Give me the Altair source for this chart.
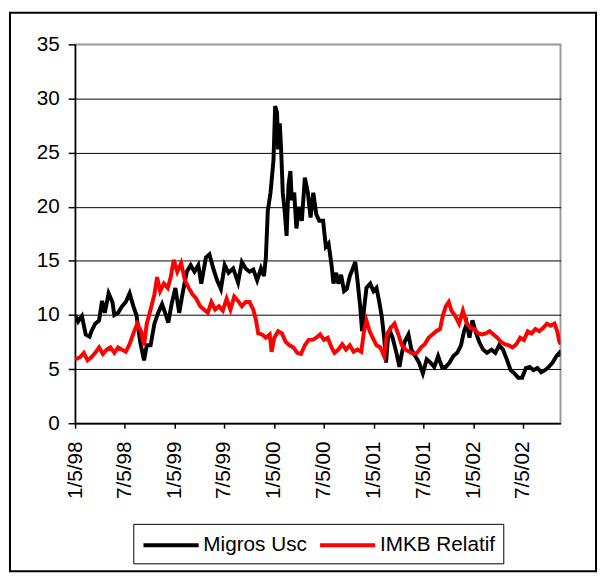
import altair as alt
import pandas as pd

START = "1998-01-05"

# Migros Usc (days since 1/5/98, value)
black_days = [0, 11, 25, 39, 53, 60, 74, 88, 99, 109, 123, 137, 144, 158, 172, 186, 200, 214, 225, 239,
              253, 263, 277, 291, 305, 319, 333, 342, 354, 368, 382, 396, 410, 424, 438, 452, 463, 480, 493, 507,
              521, 535, 549, 563, 580, 598, 612, 626, 640, 654, 668, 682, 693, 700, 707, 717, 728, 734, 741, 745,
              751, 756, 762, 770, 776, 783, 790, 795, 804, 812, 822, 832, 843, 854, 864, 874, 885, 896, 910, 920,
              930, 941, 948, 958, 966, 976, 987, 997, 1008, 1019, 1028, 1036, 1046, 1053, 1060, 1069, 1083, 1095, 1106, 1116,
              1125, 1134, 1141, 1148, 1155, 1165, 1179, 1190, 1199, 1209, 1223, 1234, 1248, 1262, 1276, 1290, 1304, 1318, 1332, 1346,
              1360, 1374, 1388, 1402, 1416, 1427, 1437, 1447, 1458, 1469, 1483, 1497, 1511, 1528, 1542, 1556, 1570, 1584, 1598, 1612,
              1626, 1640, 1654, 1668, 1682, 1696, 1710, 1724, 1738, 1752, 1766, 1777, 1782]
black_vals = [10.0, 9.4, 9.9, 8.2, 8.0, 8.5, 9.2, 9.5, 11.3, 10.2, 12.0, 11.2, 10.0, 10.2, 10.8, 11.2, 12.0, 10.8, 10.0, 7.5,
              5.8, 7.2, 7.2, 9.2, 10.2, 11.0, 10.0, 9.3, 11.0, 12.5, 10.2, 12.2, 14.0, 14.6, 14.0, 14.6, 12.9, 15.3, 15.6, 14.3,
              13.2, 12.4, 14.6, 13.9, 14.3, 13.0, 14.9, 14.3, 14.0, 14.2, 13.2, 14.3, 13.6, 15.3, 19.6, 21.3, 24.3, 29.3, 28.7, 25.3,
              27.7, 25.3, 21.3, 19.3, 17.3, 22.0, 23.3, 20.6, 21.3, 18.0, 20.0, 18.7, 22.7, 21.3, 19.0, 21.3, 19.3, 18.7, 18.7, 16.3,
              16.6, 14.6, 12.9, 13.9, 12.9, 13.7, 12.2, 12.4, 13.6, 14.3, 14.9, 13.2, 10.8, 8.5, 10.5, 12.5, 12.9, 12.2, 12.5, 11.2,
              9.9, 7.9, 5.6, 7.9, 8.5, 7.9, 6.5, 5.2, 6.5, 7.5, 8.2, 6.8, 6.2, 5.6, 4.6, 5.9, 5.6, 5.2, 6.2, 5.2,
              5.2, 5.6, 6.2, 6.5, 7.2, 8.5, 9.2, 7.9, 9.5, 8.5, 7.5, 6.8, 6.5, 6.8, 6.5, 7.2, 6.8, 5.9, 4.9, 4.6,
              4.2, 4.2, 5.1, 5.2, 4.9, 5.1, 4.7, 4.9, 5.2, 5.6, 6.2, 6.5, 6.2]

# IMKB Relatif (days since 1/5/98, value)
red_days = [0, 18, 32, 46, 60, 74, 88, 102, 116, 130, 144, 158, 172, 186, 200, 214, 228, 242, 253, 263,
            277, 291, 301, 312, 326, 340, 351, 362, 375, 389, 403, 417, 431, 445, 459, 473, 487, 500, 514, 528,
            542, 556, 570, 584, 598, 612, 626, 640, 654, 664, 672, 686, 700, 714, 721, 731, 745, 759, 773, 787,
            801, 815, 829, 843, 857, 871, 885, 899, 913, 927, 941, 952, 966, 980, 994, 1008, 1022, 1036, 1050, 1060,
            1069, 1081, 1092, 1106, 1120, 1134, 1144, 1158, 1172, 1186, 1199, 1213, 1227, 1241, 1255, 1269, 1283, 1297, 1311, 1325,
            1339, 1349, 1360, 1371, 1381, 1395, 1409, 1423, 1437, 1451, 1465, 1479, 1493, 1507, 1521, 1535, 1549, 1563, 1577, 1591,
            1605, 1619, 1633, 1647, 1661, 1675, 1689, 1703, 1717, 1731, 1745, 1759, 1769, 1777, 1782]
red_vals = [5.9, 6.1, 6.5, 5.8, 6.1, 6.5, 7.0, 6.4, 6.8, 7.0, 6.5, 7.0, 6.8, 6.6, 7.3, 8.3, 9.2, 8.5, 7.2, 9.2,
            10.5, 11.9, 13.5, 12.2, 12.9, 12.5, 13.5, 15.1, 14.0, 14.8, 13.2, 12.5, 11.9, 11.5, 10.8, 10.5, 10.2, 11.2, 10.5, 10.8,
            10.4, 11.5, 10.5, 11.7, 11.3, 10.8, 11.2, 11.2, 10.5, 9.5, 8.3, 8.2, 7.9, 8.2, 6.6, 7.9, 8.5, 8.3, 7.5, 7.2,
            7.0, 6.5, 6.4, 7.2, 7.7, 7.7, 7.9, 8.2, 7.7, 7.9, 7.0, 6.5, 6.8, 7.3, 6.8, 7.2, 6.6, 6.8, 6.6, 8.5,
            9.5, 8.5, 7.9, 7.2, 7.0, 6.2, 8.2, 8.8, 9.2, 8.2, 7.2, 6.8, 6.6, 6.4, 6.5, 7.0, 7.3, 7.9, 8.2, 8.5,
            8.7, 9.9, 10.8, 11.2, 10.4, 9.9, 9.2, 10.4, 9.2, 8.8, 8.7, 8.3, 8.2, 8.3, 8.5, 8.2, 7.9, 7.5, 7.3, 7.2,
            7.0, 7.3, 7.9, 7.7, 8.5, 8.3, 8.7, 8.5, 8.8, 9.2, 9.0, 9.2, 8.5, 7.5, 7.3]

series_names = ["Migros Usc", "IMKB Relatif"]
series_colors = ["#000000", "#ff0000"]

y_ticks = [0, 5, 10, 15, 20, 25, 30, 35]
x_tick_dates = [(1998, 1, 5), (1998, 7, 5), (1999, 1, 5), (1999, 7, 5), (2000, 1, 5),
                (2000, 7, 5), (2001, 1, 5), (2001, 7, 5), (2002, 1, 5), (2002, 7, 5)]
x_end = (2002, 11, 21)

assert len(black_days) == len(black_vals)
assert len(red_days) == len(red_vals)

base_date = pd.Timestamp(START)
df_black = pd.DataFrame({
    "date": base_date + pd.to_timedelta(black_days, unit="D"),
    "value": black_vals,
    "series": series_names[0],
})
df_red = pd.DataFrame({
    "date": base_date + pd.to_timedelta(red_days, unit="D"),
    "value": red_vals,
    "series": series_names[1],
})

FONT = "Liberation Sans"
FS = 21

x_scale = alt.Scale(
    domain=[alt.DateTime(year=x_tick_dates[0][0], month=x_tick_dates[0][1], date=x_tick_dates[0][2]),
            alt.DateTime(year=x_end[0], month=x_end[1], date=x_end[2])],
    nice=False, padding=0,
)
x_axis = alt.Axis(
    values=[alt.DateTime(year=y_, month=m, date=d) for (y_, m, d) in x_tick_dates],
    format="%-m/%-d/%y", labelAngle=270, labelAlign="right", labelBaseline="middle",
    tickSize=5, labelPadding=13, grid=False, title=None,
    labelFontSize=FS, labelFont=FONT, labelColor="black",
    domainColor="black", domainWidth=1.5, tickColor="black", tickWidth=1.5,
    labelOverlap=False, labelFlush=False,
)
y_axis = alt.Axis(
    values=y_ticks, grid=True,
    gridColor=alt.condition("datum.value == 35", alt.value("#999999"), alt.value("black")),
    gridWidth=1, tickSize=7, labelPadding=9, title=None,
    labelFontSize=FS, labelFont=FONT, labelColor="black",
    domainColor="black", domainWidth=1.5, tickColor="black", tickWidth=1.5,
)

color = alt.Color(
    "series:N",
    scale=alt.Scale(domain=series_names, range=series_colors),
    legend=alt.Legend(
        orient="none", legendX=59, legendY=486, direction="horizontal", title=None,
        symbolType="M-1,0H4", symbolSize=500, symbolStrokeWidth=4,
        labelFontSize=FS, labelFont=FONT, labelColor="black",
        strokeColor="black", fillColor="white", padding=8, columnPadding=4, labelOffset=36,
    ),
)

def line_layer(df):
    return alt.Chart(df).mark_line(strokeWidth=4, clip=True).encode(
        x=alt.X("date:T", scale=x_scale, axis=x_axis),
        y=alt.Y("value:Q", scale=alt.Scale(domain=[0, 35], nice=False), axis=y_axis),
        color=color,
    )

frame = alt.Chart(pd.DataFrame({"k": [0]})).mark_rect(
    filled=False, stroke="black", strokeWidth=2, clip=False
).encode(
    x=alt.value(-66), x2=alt.value(528), y=alt.value(-32), y2=alt.value(534)
)

chart = alt.layer(line_layer(df_black), line_layer(df_red), frame).properties(
    width=492, height=384,
    autosize=alt.AutoSizeParams(type="none"),
    padding={"left": 68, "top": 33, "right": 37, "bottom": 153},
).configure(font=FONT).configure_view(stroke="#999999", strokeWidth=2)

chart.save("out.html", embed_options={"renderer": "svg", "actions": False})
